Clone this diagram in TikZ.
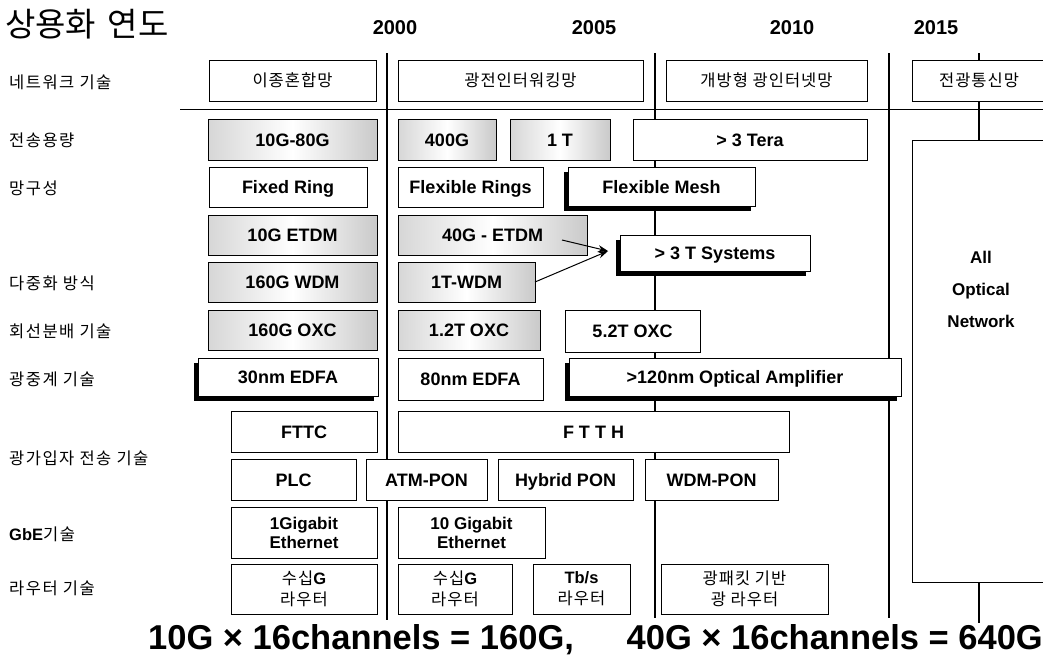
\documentclass[tikz,border=0pt]{standalone}
\usepackage{fontspec}
\setmainfont{Liberation Sans}
\newfontfamily\kr[LetterSpace=6]{Noto Sans CJK KR}
\newfontfamily\krl[LetterSpace=9]{Noto Sans CJK KR}
\newfontfamily\krt{Noto Sans CJK KR}
\usetikzlibrary{arrows.meta,shadows}
\newcommand\bx[7][]{\node[boxst,#1,minimum width={(#5)-(#3)},minimum height={(#6)-(#4)}] (#2) at ({((#3)+(#5))/2},{((#4)+(#6))/2}) {#7};}
\begin{document}
\begin{tikzpicture}[x=1pt,y=-1pt,
  boxst/.style={draw=black,line width=0.9pt,fill=white,inner sep=0pt,outer sep=0pt,align=center,
    text height=16pt,text depth=3pt,
    font=\fontsize{18}{20}\selectfont\bfseries},
  multi/.style={text height=,text depth=},
  texture/.style={left color=gray!32,right color=gray!42,middle color=white},
  shad/.style={general shadow={fill=black,shadow xshift=-4.5pt,shadow yshift=-4.5pt}},
  krtx/.style={font=\fontsize{16.5}{21}\selectfont\kr,text height=15pt,text depth=2.4pt},
  lab/.style={anchor=west,inner sep=0pt,font=\fontsize{16.5}{18}\selectfont\krl},
  yr/.style={inner sep=0pt,font=\fontsize{20}{22}\selectfont\bfseries},
  vline/.style={line width=1.4pt},
  arr/.style={line width=1pt,-{Stealth[length=10pt,width=7pt]}},
  eq/.style={inner sep=0pt,font=\fontsize{34.5}{36}\selectfont\bfseries},
]
\useasboundingbox (0,0) rectangle (1043,657);
\clip (0,0) rectangle (1043,657);

% title and years
\node[anchor=west,inner sep=0pt,font=\fontsize{33}{35}\selectfont\krt] (title) at (5,24) {상용화\hspace{0.35em}연도};
\node[yr] (y2000) at (395,28) {2000};
\node[yr] (y2005) at (594,28) {2005};
\node[yr] (y2010) at (792,28) {2010};
\node[yr] (y2015) at (936,28) {2015};

% row labels
\node[lab] (l1) at (9,82) {네트워크 기술};
\node[lab] (l2) at (9,140) {전송용량};
\node[lab] (l3) at (9,188) {망구성};
\node[lab] (l4) at (9,283) {다중화 방식};
\node[lab] (l5) at (9,331) {회선분배 기술};
\node[lab] (l6) at (9,379) {광중계 기술};
\node[lab] (l7) at (9,458) {광가입자 전송 기술};
\node[lab] (l8) at (9,534) {{\fontspec{Liberation Sans}\bfseries GbE}기술};
\node[lab] (l9) at (9,588) {라우터 기술};

% timeline lines
\coordinate (v1t) at (387,53);  \coordinate (v1b) at (387,620);
\coordinate (v2t) at (655,53);  \coordinate (v2b) at (655,618);
\coordinate (v3t) at (889,53);  \coordinate (v3b) at (889,618);
\coordinate (v4t) at (979,53);  \coordinate (v4b) at (979,623);
\coordinate (hl) at (180,109);  \coordinate (hr) at (1043,109);
\draw[vline] (v1t) -- (v1b);
\draw[vline] (v2t) -- (v2b);
\draw[line width=1.1pt] (v3t) -- (v3b);
\draw[vline] (v4t) -- (v4b);
\draw[line width=1pt] (hl) -- (hr);

% row 1
\bx[krtx]{n1}{209}{60}{376}{101}{이종혼합망}
\bx[krtx]{n2}{398}{60}{643}{101}{광전인터워킹망}
\bx[krtx]{n3}{666}{60}{867}{101}{개방형 광인터넷망}
\bx[krtx]{n4}{912}{60}{1046}{101}{전광통신망}
% row 2
\bx[texture]{c1}{208}{119}{377}{160}{10G-80G}
\bx[texture]{c2}{398}{119}{496}{160}{400G}
\bx[texture]{c3}{510}{119}{610}{160}{1 T}
\bx{c4}{633}{119}{867}{160}{> 3 Tera}
% row 3
\bx{m1}{209}{167}{367}{207}{Fixed Ring}
\bx{m2}{398}{167}{543}{207}{Flexible Rings}
\bx[shad]{m3}{568}{167}{755}{206}{Flexible Mesh}
% row 4
\bx[texture]{d1}{208}{215}{377}{255}{10G ETDM}
\bx[texture]{d2}{398}{215}{587}{255}{40G - ETDM}
\bx[shad]{d3}{620}{235}{810}{271}{> 3 T Systems}
% row 5
\bx[texture]{w1}{208}{262}{377}{302}{160G WDM}
\bx[texture]{w2}{398}{262}{535}{302}{1T-WDM}
% row 6
\bx[texture]{o1}{208}{310}{377}{350}{160G OXC}
\bx[texture]{o2}{398}{310}{540}{350}{1.2T OXC}
\bx{o3}{565}{310}{700}{352}{5.2T OXC}
% row 7
\bx[shad]{a1}{198}{358}{378}{396}{30nm EDFA}
\bx{a2}{398}{358}{543}{400}{80nm EDFA}
\bx[shad]{a3}{569}{358}{901}{396}{>120nm Optical Amplifier}
% row 8
\bx{f1}{231}{411}{377}{452}{FTTC}
\bx{f2}{398}{411}{789}{452}{F T T H}
% row 9
\bx{p1}{231}{459}{356}{500}{PLC}
\bx{p2}{366}{459}{487}{500}{ATM-PON}
\bx{p3}{498}{459}{633}{500}{Hybrid PON}
\bx{p4}{645}{459}{778}{500}{WDM-PON}
% row 10
\bx[multi,font=\fontsize{17}{19}\selectfont\bfseries]{g1}{231}{507}{377}{558}{1Gigabit\\Ethernet}
\bx[multi,font=\fontsize{17}{19}\selectfont\bfseries]{g2}{398}{507}{545}{558}{10 Gigabit\\Ethernet}
% row 11
\bx[krtx,multi]{r1}{231}{564}{377}{614}{수십{\fontspec{Liberation Sans}\bfseries G}\\라우터}
\bx[krtx,multi]{r2}{398}{564}{512}{614}{수십{\fontspec{Liberation Sans}\bfseries G}\\라우터}
\bx[krtx,multi]{r3}{533}{564}{630}{614}{{\fontspec{Liberation Sans}\bfseries Tb/s}\\라우터}
\bx[krtx,multi]{r4}{661}{564}{828}{614}{광패킷 기반\\광 라우터}

% all optical network
\bx[multi]{ao}{912}{140}{1046}{582}{}
\node[inner sep=0pt,align=center,font=\fontsize{17}{32}\selectfont\bfseries] (aot) at (981,289) {All\\Optical\\Network};

% arrows
\coordinate (tip) at (608,251);
\draw[arr] ([xshift=-25pt,yshift=-5pt]d2.east) -- (tip);
\draw[arr] (w2.east) -- (tip);

% bottom formula
\node[eq,anchor=base west] (eq1) at (148,649) {10G × 16channels = 160G,};
\node[eq,anchor=base east] (eq2) at (1043,649) {40G × 16channels = 640G};
\end{tikzpicture}
\end{document}
